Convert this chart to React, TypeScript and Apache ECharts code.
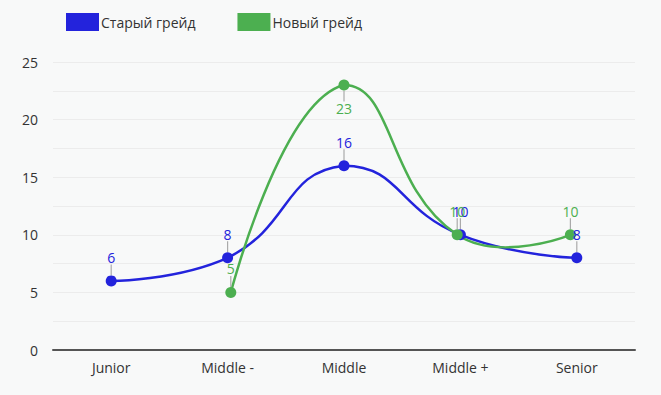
import React, { useEffect, useRef } from "react";
import * as echarts from "echarts";

const categories = ["Junior", "Middle -", "Middle", "Middle +", "Senior"];
const oldGrade = [6, 8, 16, 10, 8];
const newGrade = [null, 5, 23, 10, 10];
const seriesNames = ["Старый грейд", "Новый грейд"];
const colors = ["#2323dc", "#4caf50"];
const yTicks = { min: 0, max: 25, interval: 5 };

function smoothPath(pts: number[][], smooth: number): string {
  if (pts.length === 0) return "";
  let minX = Infinity, minY = Infinity, maxX = -Infinity, maxY = -Infinity;
  pts.forEach(([x, y]) => {
    minX = Math.min(minX, x); maxX = Math.max(maxX, x);
    minY = Math.min(minY, y); maxY = Math.max(maxY, y);
  });
  const clamp = (p: number[]) => [
    Math.min(Math.max(p[0], minX), maxX),
    Math.min(Math.max(p[1], minY), maxY),
  ];
  const n = pts.length;
  const cpIn: number[][] = [];
  const cpOut: number[][] = [];
  for (let i = 0; i < n; i++) {
    const p = pts[i];
    if (i === 0 || i === n - 1) {
      cpIn[i] = p.slice();
      cpOut[i] = p.slice();
      continue;
    }
    const prev = pts[i - 1];
    const next = pts[i + 1];
    const vx = next[0] - prev[0];
    const vy = next[1] - prev[1];
    const d0 = Math.hypot(p[0] - prev[0], p[1] - prev[1]);
    const d1 = Math.hypot(next[0] - p[0], next[1] - p[1]);
    const ratio = d0 + d1 > 0 ? d1 / (d0 + d1) : 0.5;
    cpIn[i] = clamp([p[0] - vx * smooth * (1 - ratio), p[1] - vy * smooth * (1 - ratio)]);
    cpOut[i] = clamp([p[0] + vx * smooth * ratio, p[1] + vy * smooth * ratio]);
  }
  let d = `M${pts[0][0]},${pts[0][1]}`;
  for (let i = 1; i < n; i++) {
    d += ` C${cpOut[i - 1][0]},${cpOut[i - 1][1]} ${cpIn[i][0]},${cpIn[i][1]} ${pts[i][0]},${pts[i][1]}`;
  }
  return d;
}

export default function App() {
  const ref = useRef<HTMLDivElement>(null);
  useEffect(() => {
    document.body.style.margin = "0";
    const chart = echarts.init(ref.current!, null, { renderer: "svg" });
    const font = "'Open Sans', sans-serif";
    const curve = (values: (number | null)[], color: string, axis: number) => ({
      type: "custom",
      silent: true,
      z: 1,
      xAxisIndex: axis,
      yAxisIndex: axis,
      data: [[0, 0]],
      renderItem: (_params: any, api: any) => {
        const pts: number[][] = [];
        values.forEach((v, i) => {
          if (v !== null) pts.push(api.coord([i, v]));
        });
        return {
          type: "path",
          shape: { pathData: smoothPath(pts, 0.5) },
          style: { stroke: color, lineWidth: 2.5, fill: "none" },
        };
      },
    });
    const mk = (name: string, values: any[], color: string, below: number[], axis: number) => ({
      name,
      type: "line",
      z: 3,
      xAxisIndex: axis,
      yAxisIndex: axis,
      data: values.map((v, i) =>
        below.includes(i) ? { value: v, label: { position: "bottom" } } : v
      ),
      symbol: "circle",
      symbolSize: 11,
      itemStyle: { color },
      lineStyle: { color, width: 0, opacity: 0 },
      label: {
        show: true,
        position: "top",
        distance: 4,
        color,
        fontSize: 14,
        fontFamily: font,
      },
      labelLine: { show: true, lineStyle: { color: "#aaa", width: 1.2 } },
      labelLayout: (p: any) => (below.includes(p.dataIndex) ? { dy: 7 } : { dy: -7 }),
    });
    chart.setOption({
      animation: false,
      backgroundColor: "#f8f9f9",
      textStyle: { fontFamily: font },
      legend: {
        left: 66,
        top: 13,
        padding: 0,
        itemWidth: 33,
        itemHeight: 18,
        itemGap: 42,
        icon: "rect",
        data: seriesNames,
        textStyle: { fontSize: 14, color: "#333", fontFamily: font, padding: [0, 0, 0, -3] },
      },
      grid: [
        { left: 53, right: 26, top: 62, bottom: 45 },
        { left: 61, right: 34, top: 62, bottom: 45 },
      ],
      xAxis: [
        {
          type: "category",
          data: categories,
          axisTick: { show: false },
          axisLine: { lineStyle: { color: "#555", width: 2 } },
          axisLabel: { color: "#333", fontSize: 14, margin: 10, fontFamily: font },
        },
        { type: "category", gridIndex: 1, data: categories, show: false },
      ],
      yAxis: [
        {
          type: "value",
          ...yTicks,
          axisLabel: { color: "#333", fontSize: 14, margin: 15, fontFamily: font },
          splitLine: { lineStyle: { color: "#ececec" } },
          minorTick: { show: false, splitNumber: 2 },
          minorSplitLine: { show: true, lineStyle: { color: "#ececec" } },
        },
        { type: "value", gridIndex: 1, ...yTicks, show: false, splitLine: { show: false } },
      ],
      series: [
        curve(oldGrade, colors[0], 0),
        curve(newGrade, colors[1], 1),
        mk(seriesNames[0], oldGrade, colors[0], [], 0),
        mk(seriesNames[1], newGrade, colors[1], [2], 1),
      ],
    });
    return () => chart.dispose();
  }, []);
  return <div ref={ref} style={{ width: 661, height: 395 }} />;
}
